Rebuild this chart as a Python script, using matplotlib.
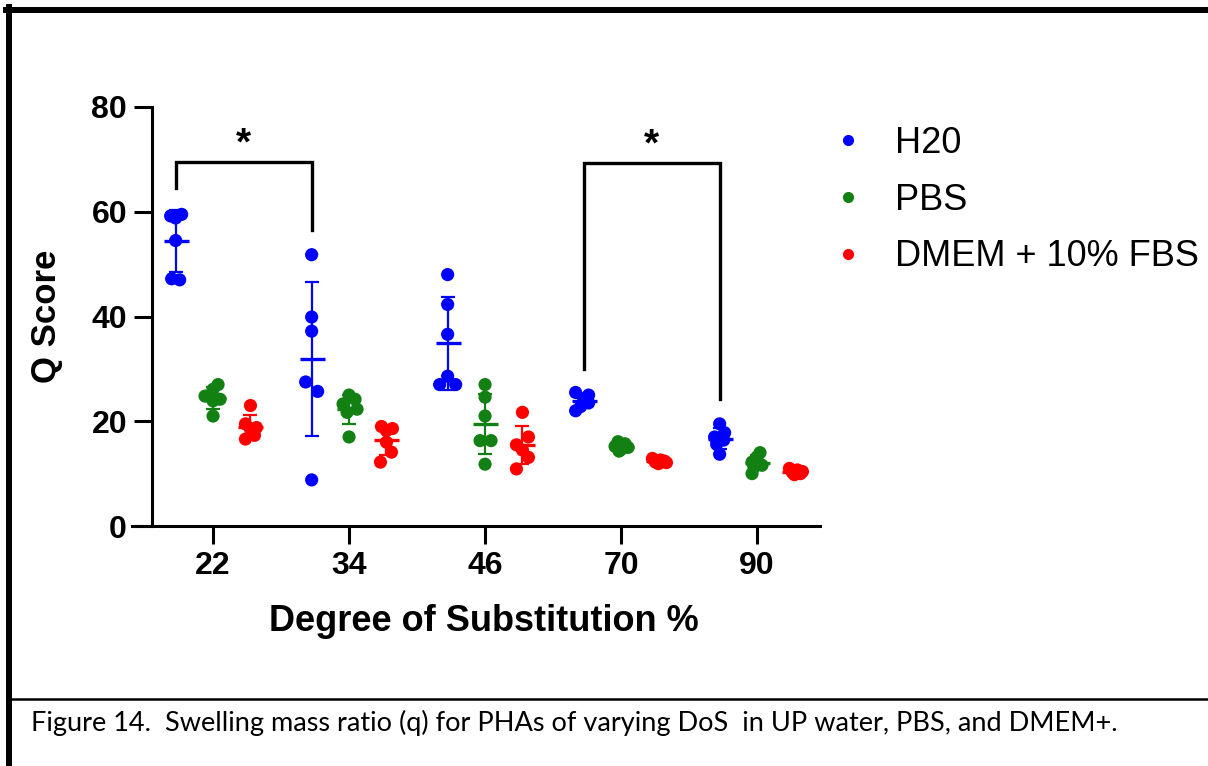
import numpy as np
import matplotlib
matplotlib.use('Agg')
import matplotlib.pyplot as plt
from matplotlib.lines import Line2D

plt.rcParams['font.family'] = ['Liberation Sans', 'DejaVu Sans']

# degree of substitution groups
dos_labels = ['22', '34', '46', '70', '90']
series_names = ['H20', 'PBS', 'DMEM + 10% FBS']
series_colors = ['#0000ff', '#138013', '#ff0000']

# Q score replicates
h2o = [[59.5, 59.2, 58.8, 54.5, 47.2, 47.0],
       [51.8, 39.9, 37.2, 27.5, 25.7, 8.8],
       [48.0, 42.3, 36.6, 28.6, 27.0, 27.0],
       [25.5, 25.0, 24.3, 23.5, 22.8, 22.0],
       [19.5, 17.8, 17.0, 16.4, 15.6, 13.7]]
pbs = [[27.0, 26.1, 24.8, 24.2, 23.9, 21.0],
       [25.0, 24.2, 23.3, 22.3, 21.7, 17.0],
       [27.0, 24.6, 21.0, 16.3, 16.3, 11.8],
       [16.1, 15.7, 15.2, 15.0, 14.6, 14.3],
       [14.0, 13.2, 12.2, 11.6, 11.2, 10.0]]
dmem = [[23.0, 19.5, 18.8, 18.5, 17.3, 16.6],
        [19.0, 18.6, 18.2, 16.0, 14.1, 12.2],
        [21.7, 17.0, 15.5, 14.5, 13.1, 10.9],
        [12.9, 12.6, 12.4, 12.2, 12.1, 11.9],
        [11.0, 10.7, 10.4, 10.2, 10.0, 9.8]]

# horizontal spread of overlapping dots (pixels)
h2o_jit = [[6, -5, 0, 0, -4, 4], [0, 0, 0, -6, 6, 0], [0, 0, 0, 0, -8, 8],
           [-8, 5, 0, 5, -3, -8], [0, 5, -5, 4, -3, 0]]
pbs_jit = [[5, 0, -8, 7, 0, 0], [0, 6, -6, 8, -2, 0], [0, 0, 0, -5, 6, 0],
           [-3, 4, -6, 7, 0, -2], [3, 0, -5, 5, -3, -5]]
dmem_jit = [[0, -5, 6, 0, 4, -5], [-5, 6, 0, 0, 5, -6], [0, 6, -6, 0, 6, -6],
            [-6, 2, 6, -3, 8, 0], [-5, 3, 8, -2, 6, 0]]

# significance brackets: (group a, group b, top, left leg end, right leg end)
brackets = [(0, 1, 69.5, 64.6, 56.6), (3, 4, 69.3, 29.9, 24.2)]

W, H = 1208, 766
fig = plt.figure(figsize=(W / 100, H / 100), dpi=100)
fig.patch.set_facecolor('white')

ax = fig.add_axes([132 / W, 1 - 526 / H, (820 - 132) / W, (526 - 107) / H])
px = 136.0  # pixels per category
offsets = [-0.275, 0.0, 0.275]

all_series = [h2o, pbs, dmem]
all_jit = [h2o_jit, pbs_jit, dmem_jit]
for s, (data, jit) in enumerate(zip(all_series, all_jit)):
    col = series_colors[s]
    for i in range(len(dos_labels)):
        vals = np.array(data[i])
        xc = i + offsets[s]
        xs = xc + np.array(jit[i]) / px
        ax.scatter(xs, vals, s=90, color=col, edgecolors='none', zorder=3,
                   clip_on=False)
        m = vals.mean()
        sd = vals.std(ddof=1)
        ax.errorbar(xc, m, yerr=sd, fmt='none', ecolor=col, elinewidth=1.6,
                    capsize=5, capthick=1.6, zorder=4)
        ax.plot(xc, m, marker='_', markersize=18, mew=2.4, color=col, zorder=4)

for a, b, top, la, lb in brackets:
    xa = a + offsets[0]
    xb = b + offsets[0]
    ax.plot([xa, xa, xb, xb], [la, top, top, lb], color='black', lw=2.4,
            solid_joinstyle='miter', clip_on=False, zorder=5)
    ax.text((xa + xb) / 2, top + 3.4, '*', ha='center', va='center',
            fontsize=28, fontweight='bold')

ax.set_xlim(-0.596, 4.463)
ax.set_ylim(0, 80)
ax.set_yticks([0, 20, 40, 60, 80])
ax.set_xticks(range(len(dos_labels)))
ax.set_xticklabels(dos_labels)
for sp in ['top', 'right']:
    ax.spines[sp].set_visible(False)
ax.spines['left'].set_position(('data', (152 - 213) / px))
for sp in ['left', 'bottom']:
    ax.spines[sp].set_linewidth(2.2)
ax.tick_params(direction='out', length=13, width=2.2, labelsize=23, pad=5)
for lab in ax.get_xticklabels() + ax.get_yticklabels():
    lab.set_fontweight('bold')

ax.set_xlabel('Degree of Substitution %', fontsize=26, fontweight='bold')
ax.xaxis.set_label_coords(0.512, -0.187)
ax.set_ylabel('Q Score', fontsize=25, fontweight='bold')
ax.yaxis.set_label_coords(-0.10, 0.5)

handles = [Line2D([], [], ls='none', marker='o', markersize=7, color=c)
           for c in series_colors]
ax.legend(handles, series_names, loc='upper left', frameon=False,
          fontsize=26, handlelength=1.0, handletextpad=0.8, labelspacing=0.6,
          borderpad=0, borderaxespad=0,
          bbox_to_anchor=(830 / W, 1 - 126 / H), bbox_transform=fig.transFigure)

# page borders and caption
fig.add_artist(Line2D([6 / W, 1], [1 - 10 / H, 1 - 10 / H], lw=4.3,
                      color='black', transform=fig.transFigure))
fig.add_artist(Line2D([9 / W, 9 / W], [0, 1 - 7 / H], lw=4.3,
                      color='black', transform=fig.transFigure))
fig.add_artist(Line2D([9 / W, 1], [1 - 699 / H, 1 - 699 / H], lw=1.8,
                      color='black', transform=fig.transFigure))
fig.text(31 / W, 1 - 731 / H,
         'Figure 14.  Swelling mass ratio (q) for PHAs of varying DoS  in UP water, PBS, and DMEM+.',
         fontsize=19.5, family=['Lato', 'DejaVu Sans'], va='baseline')

fig.savefig('out.png', dpi=100)
